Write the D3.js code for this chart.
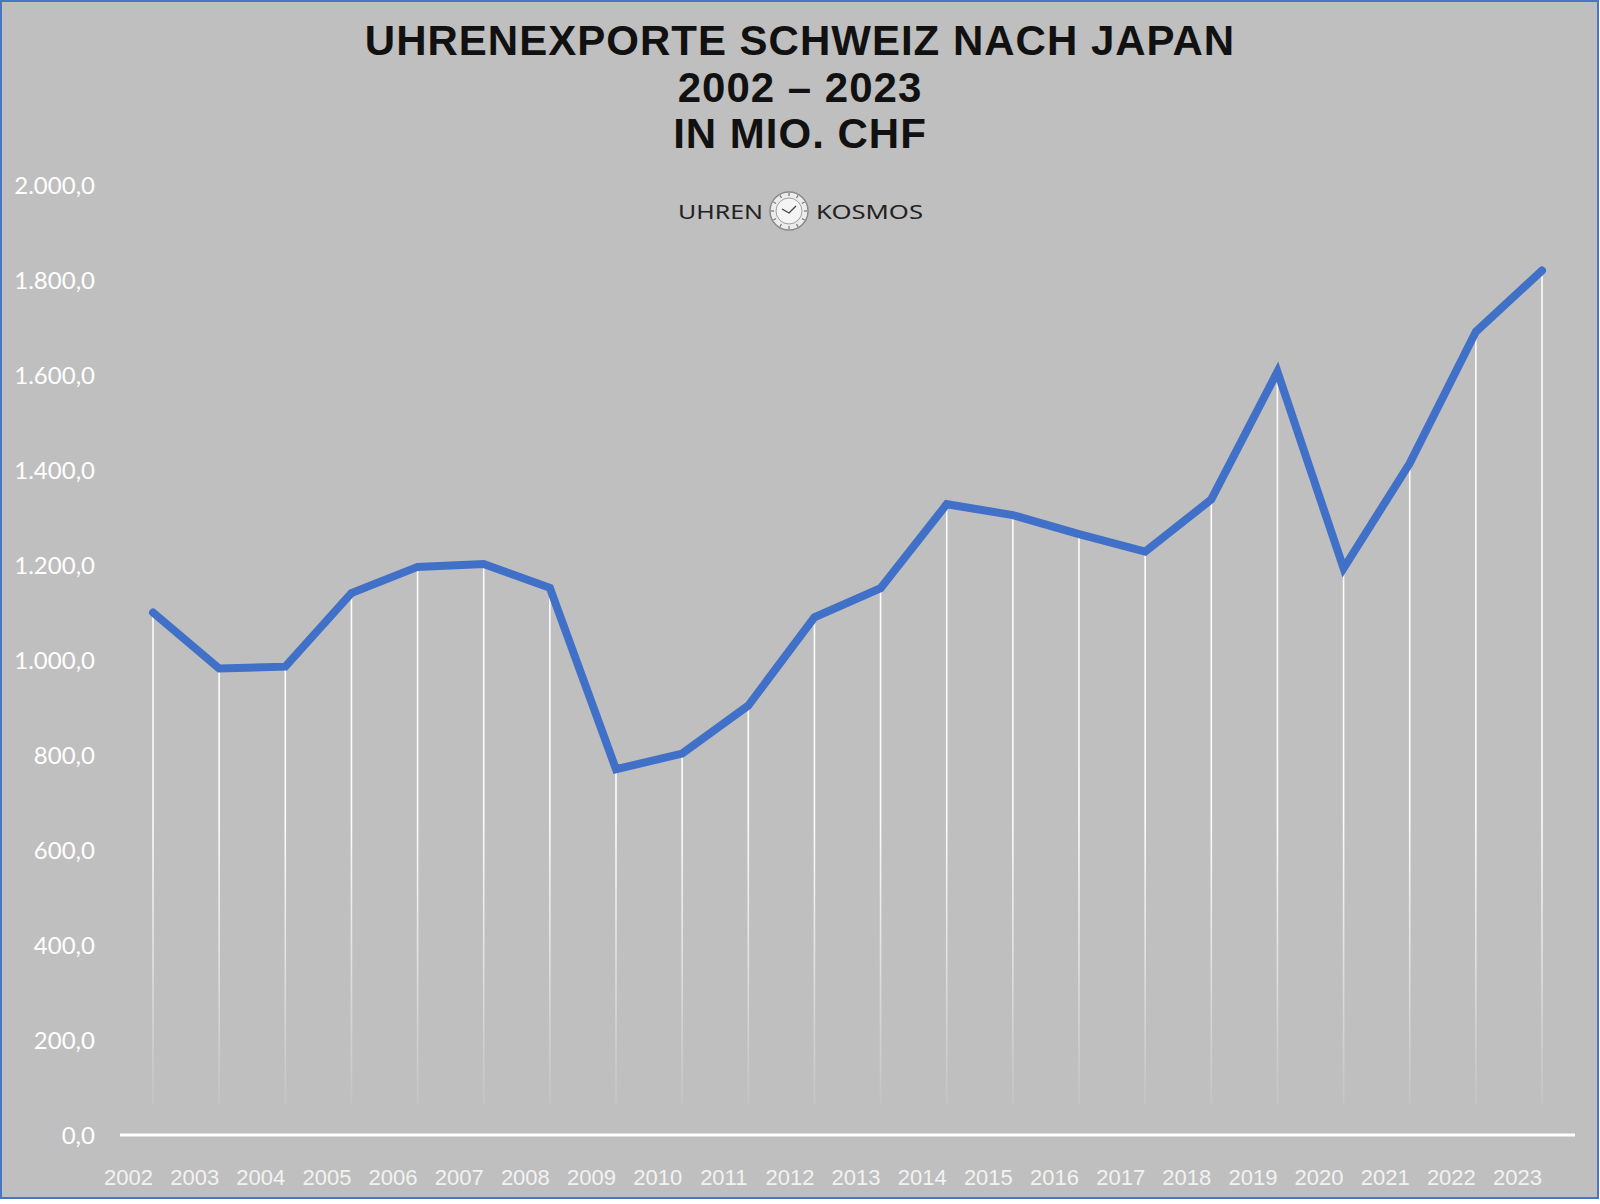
<!DOCTYPE html>
<html>
<head>
<meta charset="utf-8">
<script src="https://cdn.jsdelivr.net/npm/d3@7"></script>
<style>
  html, body { margin: 0; padding: 0; background: #ffffff; }
  svg { display: block; }
</style>
</head>
<body>
<script>
// ---- Data ----
const years = ["2002","2003","2004","2005","2006","2007","2008","2009","2010","2011","2012",
               "2013","2014","2015","2016","2017","2018","2019","2020","2021","2022","2023"];
const exportsMioCHF = [1100, 982, 986, 1141, 1196, 1202, 1152, 770, 803, 904, 1090,
                       1151, 1328, 1305, 1265, 1228, 1338, 1607, 1193, 1414, 1691, 1820];
const yTicks = [0, 200, 400, 600, 800, 1000, 1200, 1400, 1600, 1800, 2000];
const titleLines = ["UHRENEXPORTE SCHWEIZ NACH JAPAN", "2002 – 2023", "IN MIO. CHF"];
const logoWords = ["UHREN", "KOSMOS"];

// ---- Layout ----
const W = 1600, H = 1204;
const svg = d3.select("body").append("svg").attr("width", W).attr("height", H);

svg.append("rect").attr("x", 0).attr("y", 0).attr("width", W).attr("height", H).attr("fill", "#ffffff");
svg.append("rect").attr("x", 1).attr("y", 1).attr("width", 1597).attr("height", 1197)
   .attr("fill", "#bfbfbf").attr("stroke", "#4a74c4").attr("stroke-width", 2);

const x = d3.scalePoint().domain(years).range([153, 1542]);
const y = d3.scaleLinear().domain([0, 2000]).range([1135, 185]);

// ---- Title ----
svg.append("g").selectAll("text").data(titleLines).join("text")
  .attr("x", 800).attr("y", (d, i) => 55 + i * 46.5)
  .attr("text-anchor", "middle")
  .attr("font-family", "'Liberation Sans', Arial, sans-serif")
  .attr("font-weight", "bold").attr("font-size", 42)
  .attr("letter-spacing", "1px")
  .attr("fill", "#111111")
  .text(d => d);

// ---- Logo ----
const logo = svg.append("g");
logo.append("text").attr("x", 678).attr("y", 219).attr("text-anchor", "start")
  .attr("font-family", "'Noto Sans', sans-serif").attr("font-size", 19)
  .attr("textLength", 85).attr("lengthAdjust", "spacingAndGlyphs")
  .attr("fill", "#222").text(logoWords[0]);
logo.append("text").attr("x", 816).attr("y", 219).attr("text-anchor", "start")
  .attr("font-family", "'Noto Sans', sans-serif").attr("font-size", 19)
  .attr("textLength", 107).attr("lengthAdjust", "spacingAndGlyphs")
  .attr("fill", "#222").text(logoWords[1]);
const cx = 789, cy = 211;
logo.append("circle").attr("cx", cx).attr("cy", cy).attr("r", 19)
  .attr("fill", "#ececec").attr("stroke", "#8a8a8a").attr("stroke-width", 1.5);
logo.append("circle").attr("cx", cx).attr("cy", cy).attr("r", 13)
  .attr("fill", "#f4f4f4").attr("stroke", "#a0a0a0").attr("stroke-width", 1);
logo.append("g").selectAll("line").data(d3.range(12)).join("line")
  .attr("x1", d => cx + 15 * Math.sin(d * Math.PI / 6))
  .attr("y1", d => cy - 15 * Math.cos(d * Math.PI / 6))
  .attr("x2", d => cx + 18 * Math.sin(d * Math.PI / 6))
  .attr("y2", d => cy - 18 * Math.cos(d * Math.PI / 6))
  .attr("stroke", "#777").attr("stroke-width", 1.2);
logo.append("path").attr("d", `M${cx - 7},${cy - 2} L${cx},${cy + 2} L${cx + 7},${cy - 5}`)
  .attr("fill", "none").attr("stroke", "#444").attr("stroke-width", 1.4);

// ---- Drop lines (fading gradient) ----
const defs = svg.append("defs");
const grad = defs.append("linearGradient").attr("id", "fade")
  .attr("gradientUnits", "userSpaceOnUse")
  .attr("x1", 0).attr("y1", 820).attr("x2", 0).attr("y2", 1105);
grad.append("stop").attr("offset", 0).attr("stop-color", "#ffffff").attr("stop-opacity", 0.95);
grad.append("stop").attr("offset", 1).attr("stop-color", "#ffffff").attr("stop-opacity", 0.08);

const data = years.map((yr, i) => ({ yr, v: exportsMioCHF[i] }));

svg.append("g").selectAll("line").data(data).join("line")
  .attr("x1", d => x(d.yr)).attr("x2", d => x(d.yr) + 0.01)
  .attr("y1", d => y(d.v)).attr("y2", 1105)
  .attr("stroke", "url(#fade)").attr("stroke-width", 1.6);

// ---- Y axis labels ----
const yAxis = d3.axisLeft(y).tickValues(yTicks).tickSize(0).tickPadding(0)
  .tickFormat(d => d3.format(",.1f")(d).replace(/,/g, "X").replace(/\./g, ",").replace(/X/g, "."));
const gy = svg.append("g").attr("transform", "translate(95,0)").call(yAxis);
gy.select(".domain").remove();
gy.selectAll("text").attr("font-family", "Lato, 'Noto Sans', sans-serif").attr("font-size", 24)
  .attr("fill", "#ffffff").attr("dy", "0.35em");

// ---- Baseline ----
svg.append("line").attr("x1", 120).attr("x2", 1575).attr("y1", y(0)).attr("y2", y(0))
  .attr("stroke", "#ffffff").attr("stroke-width", 3);

// ---- X axis labels ----
const xAxis = d3.axisBottom(x).tickSize(0).tickPadding(0);
const gx = svg.append("g").attr("transform", "translate(-25,1185)").call(xAxis);
gx.select(".domain").remove();
gx.selectAll("text").attr("font-family", "'Liberation Sans', Arial, sans-serif").attr("font-size", 22)
  .attr("fill", "#f2f2f2").attr("dy", 0);

// ---- Line ----
const line = d3.line().x(d => x(d.yr)).y(d => y(d.v));
svg.append("path").datum(data).attr("d", line)
  .attr("fill", "none").attr("stroke", "#4170c8").attr("stroke-width", 8)
  .attr("stroke-linejoin", "miter").attr("stroke-linecap", "round");
</script>
</body>
</html>
